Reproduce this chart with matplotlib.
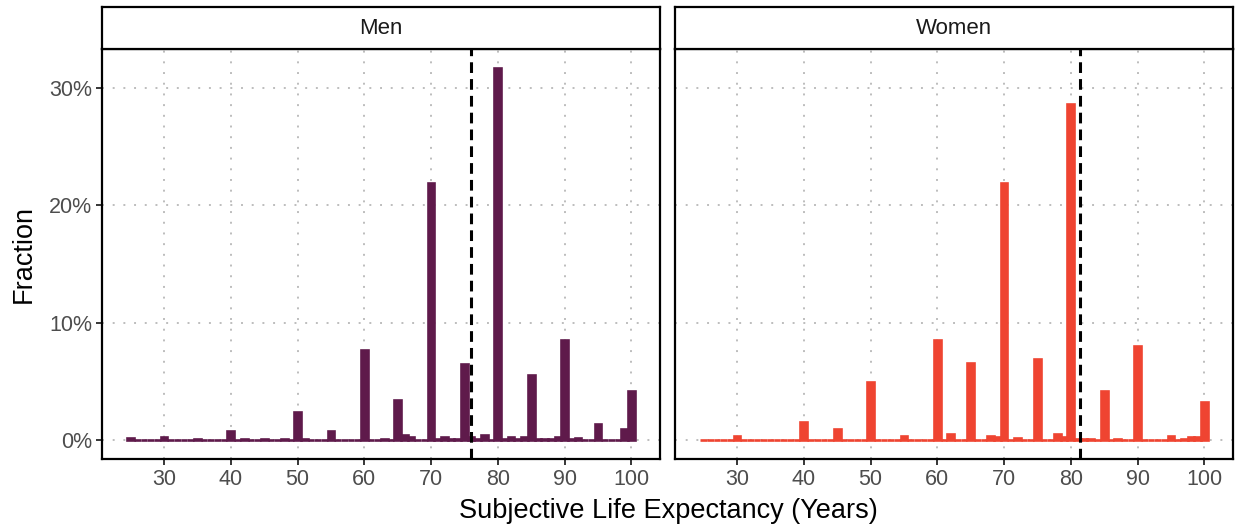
import numpy as np
import matplotlib
matplotlib.use("Agg")
import matplotlib.pyplot as plt
from matplotlib.ticker import PercentFormatter

plt.rcParams['font.family'] = ['Liberation Sans', 'DejaVu Sans']

# one bin per reported age
ages = np.arange(25, 101)

# ages with a non-zero share of answers, share in percent
men_ages = [25, 30, 35, 40, 42, 45, 48, 50, 51, 55, 60, 63, 65, 66, 67, 70, 71, 72, 73, 74,
            75, 76, 77, 78, 80, 81, 82, 83, 84, 85, 86, 87, 88, 89, 90, 91, 92, 95, 99, 100]
men_pct = [0.2, 0.3, 0.15, 0.8, 0.15, 0.15, 0.15, 2.4, 0.1, 0.8, 7.7, 0.15, 3.45, 0.42, 0.25, 21.9, 0.15, 0.3, 0.15, 0.1,
           6.5, 0.25, 0.1, 0.43, 31.7, 0.15, 0.3, 0.15, 0.3, 5.6, 0.1, 0.15, 0.1, 0.3, 8.5, 0.1, 0.2, 1.35, 0.95, 4.2]

women_ages = [30, 40, 45, 50, 55, 60, 62, 65, 68, 69, 70, 72, 75, 78, 79, 80, 81, 82, 83,
              85, 87, 90, 95, 97, 98, 99, 100]
women_pct = [0.4, 1.55, 0.95, 5.0, 0.4, 8.5, 0.55, 6.55, 0.38, 0.25, 21.9, 0.23, 6.95, 0.5, 0.25, 28.6, 0.15, 0.15, 0.15,
             4.2, 0.15, 8.0, 0.4, 0.15, 0.25, 0.25, 3.3]

# mean subjective life expectancy
men_mean = 76.0
women_mean = 81.4


def fill_bins(a, p):
    frac = np.zeros(len(ages))
    frac[np.searchsorted(ages, a)] = np.array(p) / 100
    return frac


panels = [
    ("Men", fill_bins(men_ages, men_pct), men_mean, "#5F1A4B", 102, 660),
    ("Women", fill_bins(women_ages, women_pct), women_mean, "#EF4431", 675, 1233),
]

W, H = 1235, 529
fig = plt.figure(figsize=(W / 100, H / 100), dpi=100)


def px_axes(l, t, r, b):
    return fig.add_axes([l / W, 1 - b / H, (r - l) / W, (b - t) / H])


for i, (name, frac, mean, col, x0, x1) in enumerate(panels):
    ax = px_axes(x0, 49, x1, 459)
    ax.bar(ages, frac, width=1, color=col, edgecolor=col, linewidth=1.9, zorder=2)
    ax.axvline(mean, color="black", linewidth=2.2, dashes=(3.5, 2), zorder=3)

    ax.set_xlim(20.7, 104.3)
    ax.set_ylim(-0.0159, 0.333)
    ax.set_xticks(range(30, 101, 10))
    ax.set_yticks([0, 0.1, 0.2, 0.3])
    ax.yaxis.set_major_formatter(PercentFormatter(1.0, decimals=0))
    ax.grid(True, color="#BDBDBD", linewidth=1.4, linestyle=(0, (1, 4.5)))
    ax.set_axisbelow(True)
    for s in ax.spines.values():
        s.set_linewidth(1.6)
        s.set_color("black")
    ax.tick_params(length=4, width=1.1, color="black", labelcolor="#4D4D4D", labelsize=15.5, pad=3)
    if i > 0:
        ax.tick_params(axis="y", left=False, labelleft=False)

    # facet strip
    strip = px_axes(x0, 7, x1, 49)
    strip.set_xticks([])
    strip.set_yticks([])
    for s in strip.spines.values():
        s.set_linewidth(1.6)
    strip.text(0.5, 0.5, name, ha="center", va="center", fontsize=16, color="#1A1A1A",
               transform=strip.transAxes)

fig.text(668 / W, 1 - 511 / H, "Subjective Life Expectancy (Years)", ha="center", va="center", fontsize=19.5)
fig.text(24 / W, 1 - 254 / H, "Fraction", ha="center", va="center", rotation=90, fontsize=19.5)

fig.savefig("out.png", dpi=100)
